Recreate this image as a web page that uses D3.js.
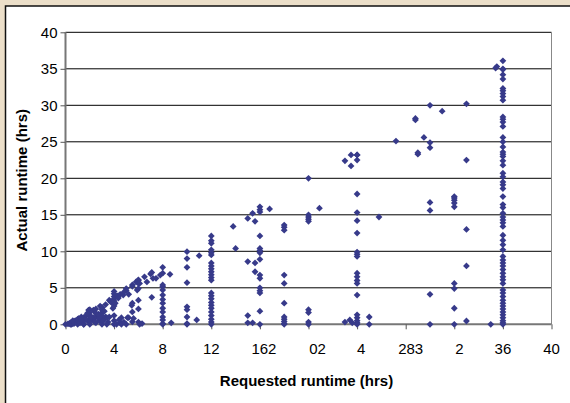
<!DOCTYPE html>
<html>
<head>
<meta charset="utf-8">
<script src="https://cdn.jsdelivr.net/npm/d3@7"></script>
<style>
  body { margin: 0; background: #ecdfc9; }
  svg { display: block; font-family: "Liberation Sans", Arial, sans-serif; }
</style>
</head>
<body>
<svg id="chart"></svg>
<script>
// requested runtimes that many jobs share (vertical columns of points)
const columnReq = [8, 10, 12, 16, 18, 20, 24, 36];
const columnAct = [
  [7.8, 7.0, 5.4, 5.15, 4.7, 4.0, 3.4, 2.9, 2.2, 1.7, 1.0, 0.6, 0.1, 0],
  [9.95, 9.0, 7.8, 5.7, 2.4, 2.0, 1.0, 0.1, 0],
  [12.1, 11.45, 11.1, 10.2, 9.8, 9.5, 8.4, 8.0, 7.6, 7.2, 6.8, 6.4, 6.05, 4.3, 3.9, 3.5, 3.0, 2.6, 2.2, 1.7, 1.2, 0.7, 0.3, 0],
  [16.1, 15.7, 15.4, 12.1, 10.4, 10.1, 9.8, 8.9, 6.75, 6.3, 5.0, 4.6, 4.3, 1.8, 0],
  [13.6, 13.3, 12.9, 6.75, 5.6, 2.9, 1.0, 0.7, 0.4, 0.1, 0],
  [20.0, 15.0, 14.7, 14.4, 14.1, 2.0, 1.6, 0.3, 0],
  [23.2, 22.5, 17.85, 15.3, 14.2, 12.5, 9.9, 9.6, 9.3, 7.0, 6.5, 6.0, 5.6, 4.0, 1.3, 0.9, 0.5, 0.2, 0],
  [36.1, 35.0, 34.9, 34.2, 33.6, 32.3, 32.0, 31.6, 31.2, 30.7, 28.4, 28.1, 27.7, 27.1, 25.6, 25.0,
   24.3, 23.6, 23.3, 23.0, 22.4, 21.8, 20.7, 20.2, 19.5, 19.1, 18.6, 17.5, 16.4, 16.0, 15.2, 14.7,
   14.3, 13.9, 13.4, 12.2, 11.5, 10.9, 10.2, 9.3, 8.8, 8.4, 8.0, 7.5, 7.0, 6.5, 6.1, 5.6, 4.7, 4.3,
   3.8, 3.3, 2.9, 2.5, 2.1, 1.7, 1.3, 0.9, 0.5, 0.2, 0]
];

// short jobs (dense triangle near the origin)
const shortReq = [0, 0.2, 0.3, 0.4, 0.5, 0.6, 0.7, 0.8, 0.9, 1, 1, 1, 1.1, 1.2, 1.3, 1.4, 1.5, 1.5, 1.7, 1.8,
  1.9, 2, 2, 2, 2, 2, 2, 2.3, 2.3, 2.5, 2.5, 2.5, 2.5, 2.8, 2.85, 3, 3, 3, 3, 3, 3, 3, 3.3, 3.3, 3.5,
  3.6, 3.7, 3.8, 4, 4, 4, 4, 4, 4, 4, 4, 4, 4, 4.1, 4.3, 4.35, 4.5, 4.5, 4.75, 4.8, 5, 5, 5, 5.1,
  5.45, 5.5, 5.5, 5.5, 5.5, 5.5, 5.8, 5.9, 6, 6, 6, 6, 6, 6, 6, 6.1, 6.5, 6.7, 7, 0.5, 1.5, 2.2, 2.7,
  3.4, 4.2, 4.6, 6.1, 2.3, 2.8, 3.4, 4.6, 5.2,
  0.4, 0.7, 1.0, 1.2, 1.6, 1.8, 2.1, 2.7, 3.1, 3.2, 3.6, 3.9, 4.4, 4.8, 5.2, 5.6, 6.3, 0.6, 1.3, 2.4];
const shortAct = [0, 0.05, 0.1, 0.2, 0.3, 0.1, 0.4, 0.5, 0.2, 0.7, 0.3, 0, 0.8, 0.5, 1.0, 0.2, 0.9, 0, 1.2, 0.5,
  1.95, 2.0, 1.6, 1.2, 0.8, 0.4, 0, 1.95, 0.6, 2.1, 1.5, 1.0, 0.2, 0.5, 2.5, 2.3, 2.0, 1.6, 1.2, 0.8, 0.3, 0,
  2.7, 1.0, 0.3, 3.3, 3.1, 3.0, 4.5, 4.2, 3.8, 3.5, 3.2, 2.9, 2.5, 1.2, 0.5, 0, 2.9, 3.9, 3.6, 4.1, 0.2,
  4.0, 4.4, 4.9, 4.6, 0, 0.9, 2.6, 5.4, 5.2, 2.9, 1.7, 0.35, 5.8, 4.7, 6.0, 6.1, 5.6, 4.9, 3.3, 2.1, 0.3,
  5.6, 6.5, 5.8, 6.9, 0, 0, 0.9, 0.9, 0, 0, 0, 0, 0.9, 0.9, 0.9, 0.9, 0.9,
  0, 0.1, 0.5, 0.2, 0.6, 1.5, 1.0, 1.4, 0.5, 1.8, 1.0, 2.2, 0.6, 0.3, 4.1, 0.8, 0.1, 0.5, 0.6, 0.3];

// scattered longer jobs
const otherReq = [7.1, 7.2, 7.45, 7.8, 8.6, 8.7, 10.8, 11.0, 13.8, 14.0, 15.0, 15.6, 15.6, 15.0, 15.4,
  15.6, 15.0, 15.0, 15.4, 16.8, 20.9, 23.0, 23.5, 23.5, 24.0, 23.0, 23.4, 23.6, 25.0, 25.0, 25.8,
  27.2, 28.8, 28.8, 29.0, 29.0, 29.5, 30.0, 30.0, 30.0, 31.0, 33.0, 33.0, 32.0, 32.0, 32.0, 32.0,
  32.0, 30.0, 30.0, 33.0, 33.0, 32.0, 32.0, 30.0, 32.0, 30.0, 32.0, 33.0, 35.0, 35.5, 35.4, 7.1];
const otherAct = [3.7, 6.3, 6.3, 6.75, 6.85, 0.2, 0.6, 9.4, 13.4, 10.4, 8.6, 8.4, 7.2, 14.5, 15.2,
  14.1, 1.2, 0.2, 0.2, 15.8, 15.9, 22.4, 23.2, 21.7, 23.2, 0.3, 0.6, 0.2, 1.0, 0, 14.7,
  25.1, 28.2, 28.0, 23.3, 23.5, 25.6, 30.0, 24.9, 24.2, 29.2, 30.2, 22.5, 17.5, 17.3, 17.0, 16.6,
  16.1, 16.7, 15.6, 13.0, 8.0, 5.6, 4.9, 4.1, 2.2, 0, 0, 0.45, 0, 35.3, 35.1, 7.1];

const yTicks = [0, 5, 10, 15, 20, 25, 30, 35, 40];
const xTicks = [0, 4, 8, 12, 16, 20, 24, 28, 32, 36, 40];
const xTickLabels = ["0", "4", "8", "12", "162", "02", "4", "283", "2", "36", "40"];
const xLabelShift = [0, 0, 0, 0, 4, 9, 4, 5, 5, 0, 0];

const W = 570, H = 403;
const margin = { left: 65.5, right: 18.5, top: 32.3, bottom: 78.7 };
const width = W - margin.left - margin.right;
const height = H - margin.top - margin.bottom;
const dotColor = "#373a8a";

const svg = d3.select("#chart").attr("width", W).attr("height", H);

// white chart panel
svg.append("rect")
  .attr("x", 5.5).attr("y", 6)
  .attr("width", 600).attr("height", 420)
  .attr("fill", "#fff")
  .attr("stroke", "#111")
  .attr("stroke-width", 1.5);

const chart = svg.append("g")
  .attr("transform", `translate(${margin.left},${margin.top})`);

const x = d3.scaleLinear().domain([0, 40]).range([0, width]);
const y = d3.scaleLinear().domain([0, 40]).range([height, 0]);

// gridlines
chart.selectAll(".grid")
  .data(yTicks.filter(d => d > 0))
  .join("line")
    .attr("class", "grid")
    .attr("x1", 0).attr("x2", width)
    .attr("y1", d => y(d)).attr("y2", d => y(d))
    .attr("stroke", "#000")
    .attr("stroke-width", 1);

// plot area right border
chart.append("line")
  .attr("x1", width).attr("x2", width)
  .attr("y1", 0).attr("y2", height)
  .attr("stroke", "#888");

// axes
const yAxis = chart.append("g")
  .call(d3.axisLeft(y).tickValues(yTicks).tickSize(5).tickPadding(3));
const xAxis = chart.append("g")
  .attr("transform", `translate(0,${height})`)
  .call(d3.axisBottom(x).tickValues(xTicks).tickSize(5).tickFormat(() => ""));

[yAxis, xAxis].forEach(g => {
  g.select(".domain").attr("stroke", "#777").attr("stroke-width", 2);
  g.selectAll(".tick line").attr("stroke", "#555");
  g.selectAll("text").attr("fill", "#000").style("font-size", "15px")
    .style("font-family", "'Liberation Sans', Arial, sans-serif");
});
yAxis.select(".domain").attr("d", `M0,0V${height}`);
xAxis.select(".domain").attr("d", `M0,0H${width}`);

chart.selectAll(".xlab")
  .data(xTicks)
  .join("text")
    .attr("class", "xlab")
    .attr("x", (d, i) => x(d) + xLabelShift[i])
    .attr("y", height + 30)
    .attr("text-anchor", "middle")
    .style("font-size", "15px")
    .text((d, i) => xTickLabels[i]);

// points
const points = [];
columnReq.forEach((r, i) => columnAct[i].forEach(a => points.push({ req: r, act: a })));
shortReq.forEach((r, i) => points.push({ req: r, act: shortAct[i] }));
otherReq.forEach((r, i) => points.push({ req: r, act: otherAct[i] }));

const diamond = d3.symbol().type(d3.symbolSquare).size(23);
chart.selectAll(".dot")
  .data(points)
  .join("path")
    .attr("class", "dot")
    .attr("d", diamond)
    .attr("transform", d => `translate(${x(d.req)},${y(d.act)}) rotate(45)`)
    .attr("fill", dotColor);

// axis titles
svg.append("text")
  .attr("x", margin.left + width / 2 - 2)
  .attr("y", 386)
  .attr("text-anchor", "middle")
  .attr("font-weight", "bold")
  .style("font-size", "15px")
  .text("Requested runtime (hrs)");

svg.append("text")
  .attr("transform", `translate(27,${margin.top + height / 2 + 2}) rotate(-90)`)
  .attr("text-anchor", "middle")
  .attr("font-weight", "bold")
  .style("font-size", "15px")
  .text("Actual runtime (hrs)");
</script>
</body>
</html>
